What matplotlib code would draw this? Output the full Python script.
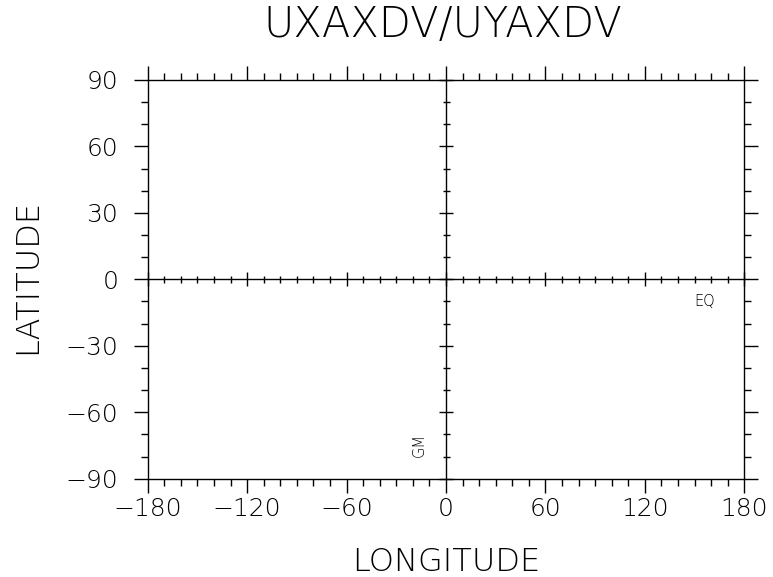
import matplotlib
matplotlib.use("Agg")
import matplotlib.pyplot as plt

# axis ranges and ticks
lon_range = [-180, 180]
lat_range = [-90, 90]
lon_major = [-180, -120, -60, 0, 60, 120, 180]
lon_minor = list(range(-180, 181, 10))
lat_major = [-90, -60, -30, 0, 30, 60, 90]
lat_minor = list(range(-90, 91, 10))

title = "UXAXDV/UYAXDV"
xlabel = "LONGITUDE"
ylabel = "LATITUDE"

# small marks on the center axes
gm_pos = (-16, -75)
eq_pos = (156, -10)

plt.rcParams['font.family'] = ['DejaVu Sans']
plt.rcParams['axes.unicode_minus'] = True
WT = 200

W, H = 773, 577
fig = plt.figure(figsize=(W / 100, H / 100), dpi=100)
rect = [147.7 / W, 1 - 478.7 / H, (744.3 - 147.7) / W, (478.7 - 80) / H]

major_len = 14 * 72 / 100
minor_len = 7 * 72 / 100
lw = 1.0

# outer frame with outward ticks on all four sides
ax = fig.add_axes(rect)
ax.set_xlim(lon_range)
ax.set_ylim(lat_range)
ax.set_xticks(lon_major)
ax.set_xticks(lon_minor, minor=True)
ax.set_yticks(lat_major)
ax.set_yticks(lat_minor, minor=True)
for s in ax.spines.values():
    s.set_linewidth(lw)
ax.tick_params(which='both', direction='out', top=True, right=True,
               width=lw, color='black')
ax.tick_params(which='major', length=major_len)
ax.tick_params(which='minor', length=minor_len)
ax.tick_params(axis='x', labelsize=18, pad=3)
ax.tick_params(axis='y', labelsize=18, pad=11)
for lab in ax.get_xticklabels() + ax.get_yticklabels():
    lab.set_fontweight(WT)

# center cross axes with ticks on both sides
ax2 = fig.add_axes(rect)
ax2.set_xlim(lon_range)
ax2.set_ylim(lat_range)
ax2.patch.set_visible(False)
ax2.spines['top'].set_visible(False)
ax2.spines['right'].set_visible(False)
ax2.spines['left'].set_position(('data', 0))
ax2.spines['bottom'].set_position(('data', 0))
ax2.spines['left'].set_linewidth(lw)
ax2.spines['bottom'].set_linewidth(lw)
ax2.set_xticks(lon_major)
ax2.set_xticks(lon_minor, minor=True)
ax2.set_yticks(lat_major)
ax2.set_yticks(lat_minor, minor=True)
ax2.tick_params(which='both', direction='inout', width=lw,
                labelleft=False, labelbottom=False)
ax2.tick_params(which='major', length=major_len)
ax2.tick_params(which='minor', length=minor_len)

ax2.text(gm_pos[0], gm_pos[1], "GM", rotation=90, fontsize=10.5,
         fontweight=WT, ha='center', va='center')
ax2.text(eq_pos[0], eq_pos[1], "EQ", fontsize=10.5, fontweight=WT,
         ha='center', va='center')

fig.text(443 / W, 1 - 37 / H, title, fontsize=30, fontweight=WT,
         ha='center', va='baseline')
fig.text(446 / W, 1 - 571 / H, xlabel, fontsize=23, fontweight=WT,
         ha='center', va='baseline')
fig.text(27 / W, 1 - 276 / H, ylabel, fontsize=23, fontweight=WT,
         rotation=90, ha='center', va='center')

fig.savefig("out.png", dpi=100)
